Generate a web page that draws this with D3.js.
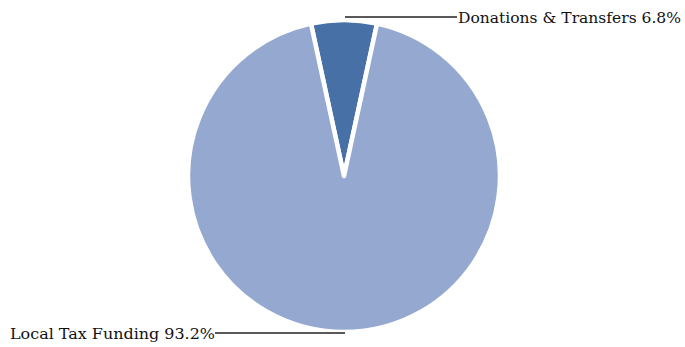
<!DOCTYPE html>
<html>
<head>
<meta charset="utf-8">
<script src="https://cdn.jsdelivr.net/npm/d3@7"></script>
<style>
  body { margin: 0; background: #fff; }
  text { font-family: "DejaVu Serif", serif; font-size: 15.5px; fill: #111; }
</style>
</head>
<body>
<div id="chart"></div>
<script>
// chart data
var categories = ["Donations & Transfers", "Local Tax Funding"];
var shares = [6.8, 93.2];
var colors = ["#4670a6", "#95a9d0"];

var svgWidth = 685;
var svgHeight = 347;
var cx = 344, cy = 176, radius = 156;

var svg = d3.select("#chart")
  .append("svg")
  .attr("width", svgWidth)
  .attr("height", svgHeight);

var chartGroup = svg.append("g")
  .attr("transform", `translate(${cx}, ${cy})`);

// faint halo round the pie
chartGroup.append("circle")
  .attr("r", radius + 2)
  .attr("fill", "#f0f0f0");

// small slice sits centred on the top
var offset = -Math.PI * shares[0] / 100;
var pie = d3.pie()
  .sort(null)
  .value(d => d)
  .startAngle(offset)
  .endAngle(2 * Math.PI + offset);

var arc = d3.arc().innerRadius(0).outerRadius(radius);

chartGroup.selectAll("path")
  .data(pie(shares))
  .enter()
  .append("path")
  .attr("d", arc)
  .attr("fill", (d, i) => colors[i])
  .attr("stroke", "#fff")
  .attr("stroke-width", 4.5)
  .attr("stroke-linejoin", "round");

// labels with leader lines (text fitted to the width seen in the picture)
var labels = [
  { x1: 1, y: 17 - cy, x2: 457 - cx, anchor: "start", tx: 458 - cx, w: 223 },
  { x1: 1, y: 333 - cy, x2: 215 - cx, anchor: "end", tx: 215 - cx, w: 205 }
];

labels.forEach(function(l, i) {
  chartGroup.append("line")
    .attr("x1", l.x1).attr("x2", l.x2)
    .attr("y1", l.y).attr("y2", l.y)
    .attr("stroke", "#222")
    .attr("stroke-width", 1.3);
  chartGroup.append("text")
    .attr("x", l.tx)
    .attr("y", l.y + 6)
    .attr("text-anchor", l.anchor)
    .attr("textLength", l.w)
    .attr("lengthAdjust", "spacingAndGlyphs")
    .text(`${categories[i]} ${shares[i]}%`);
});
</script>
</body>
</html>
